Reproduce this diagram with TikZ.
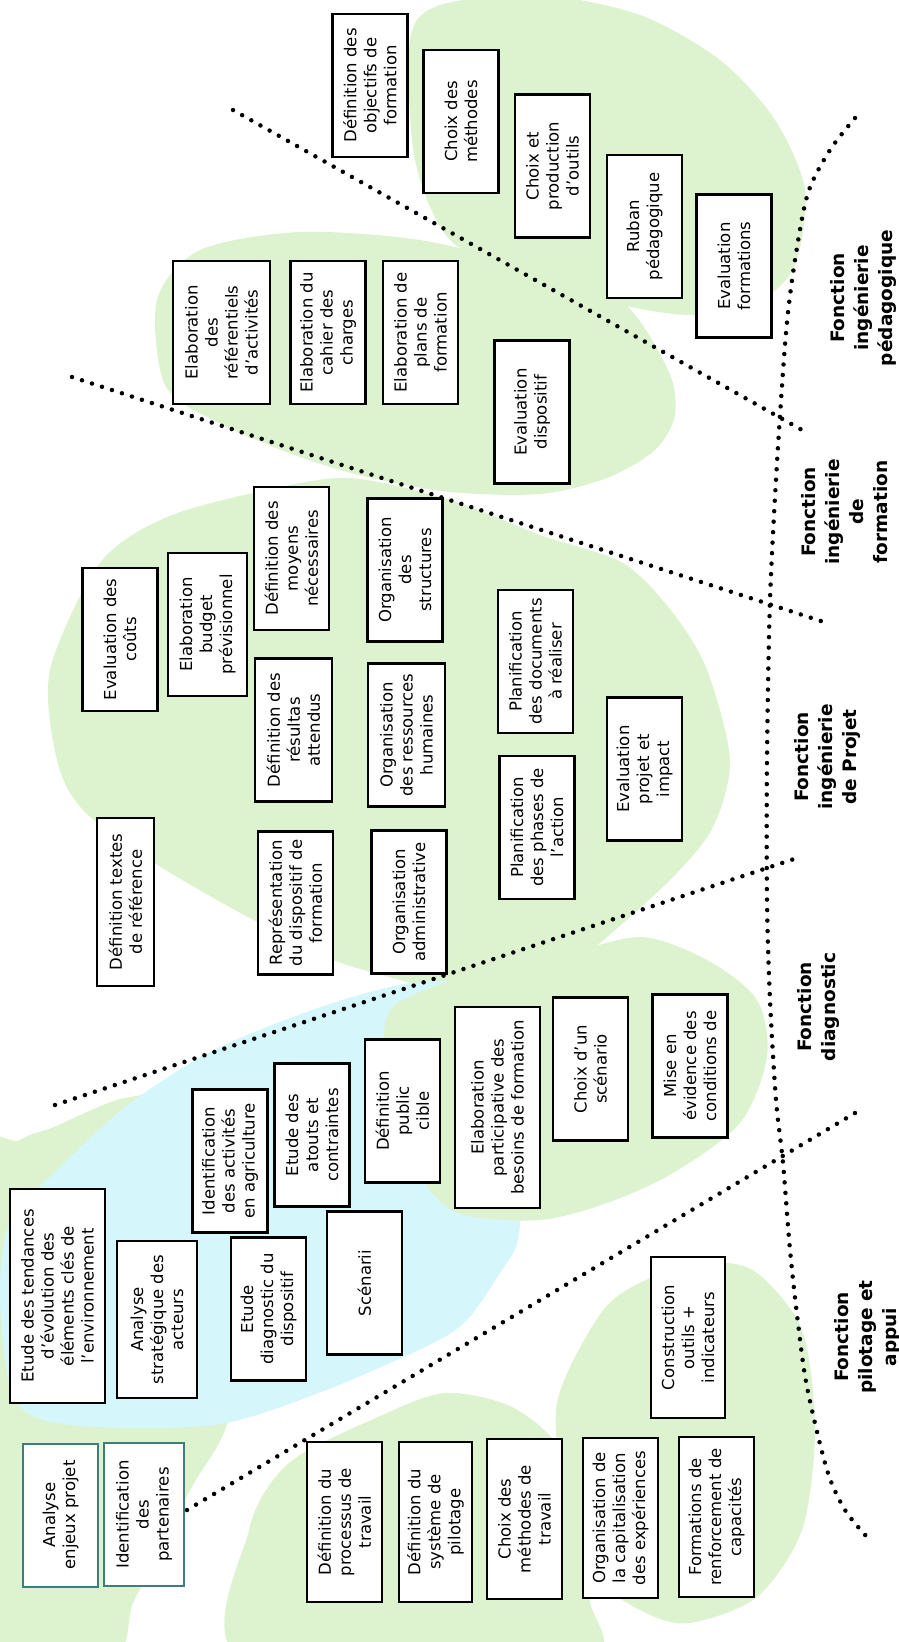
\documentclass[tikz,border=0pt]{standalone}
\usepackage{fontspec}
\setmainfont{DejaVu Sans}
\usepackage{xcolor}
\usepackage{tikz}
\usetikzlibrary{positioning}
\definecolor{blobgreen}{RGB}{221,243,207}
\definecolor{blobblue}{RGB}{213,246,250}
\definecolor{tealedge}{RGB}{60,126,126}

\begin{document}
\begin{tikzpicture}[x=1pt, y=-1pt,
    box/.style={rectangle, draw, line width=2.4pt, fill=white, rotate=90, inner sep=0pt, minimum width=143pt, minimum height=75pt, align=center, font=\fontsize{16.5}{20}\selectfont},
    tealbox/.style={box, draw=tealedge, line width=2pt},
    func/.style={rotate=90, align=center, font=\bfseries\fontsize{18.5}{24}\selectfont},
    divider/.style={line width=4.5pt, line cap=round, dash pattern=on 0pt off 10.5pt}
]
\clip (0,0) rectangle (899,1642);
\fill[white] (0,0) rectangle (899,1642);

% blobs
\fill[blobgreen] plot[smooth cycle] coordinates {(410,40) (440,5) (540,-5) (640,15) (720,60) (775,120) (805,190) (795,265) (760,300) (690,315) (600,300) (520,270) (450,240) (415,160)};
\fill[blobgreen] plot[smooth cycle] coordinates {(157,300) (200,250) (300,232) (420,240) (520,265) (620,300) (668,370) (675,415) (655,450) (607,478) (540,494) (450,492) (367,477) (300,457) (217,422) (165,385)};
\fill[blobgreen] plot[smooth cycle] coordinates {(350,478) (450,500) (540,535) (623,563) (673,613) (707,670) (730,760) (713,827) (673,877) (607,937) (560,972) (500,992) (450,993) (400,980) (333,960) (267,927) (217,900) (150,860) (83,810) (57,760) (50,670) (100,563) (167,517) (267,490)};
\fill[blobgreen] plot[smooth cycle] coordinates {(-30,1180) (20,1140) (54,1127) (125,1098) (200,1100) (240,1200) (240,1350) (225,1430) (190,1490) (160,1553) (133,1603) (110,1660) (-30,1660)};
\fill[blobblue] plot[smooth cycle] coordinates {(54,1173) (125,1107) (214,1050) (321,1007) (411,983) (470,990) (505,1080) (520,1180) (518,1240) (500,1273) (467,1320) (429,1345) (321,1392) (214,1425) (71,1425) (15,1400) (0,1300) (10,1220)};
\fill[blobgreen] plot[smooth cycle] coordinates {(393,1007) (470,975) (557,957) (640,937) (707,960) (757,1000) (767,1057) (740,1123) (673,1173) (607,1203) (540,1220) (464,1215) (430,1190) (400,1130) (385,1060)};
\fill[blobgreen] plot[smooth cycle] coordinates {(245,1660) (249,1530) (289,1463) (378,1417) (445,1393) (512,1407) (561,1450) (585,1530) (590,1600) (580,1660)};
\fill[blobgreen] plot[smooth cycle] coordinates {(557,1403) (601,1313) (646,1280) (713,1263) (757,1273) (802,1330) (815,1430) (802,1530) (757,1597) (690,1623) (646,1613) (600,1580) (567,1500)};

% dividers
\coordinate (d1a) at (233,110);
\coordinate (d1b) at (802,430);
\coordinate (d2a) at (72,377);
\coordinate (d2b) at (827,623);
\coordinate (d3a) at (55,1105);
\coordinate (d3b) at (800,857);
\coordinate (d4a) at (187,1510);
\coordinate (d4b) at (855,1113);
\draw[divider] (d1a) -- (d1b);
\draw[divider] (d2a) -- (d2b);
\draw[divider] (d3a) -- (d3b);
\draw[divider] (d4a) -- (d4b);
\draw[divider] plot[smooth] coordinates {(855,118) (830,150) (808,193) (795,260) (786,333) (777,463) (770,600) (767,760) (767,900) (770,1000) (776,1100) (783,1163) (790,1250) (798,1323) (807,1387) (827,1470) (845,1510) (867,1537)};

% pedagogie
\node[box] (objf) at (370,85.5) {Définition des\\objectifs de\\formation};
\node[box] (meth) at (461,121.5) {Choix des\\méthodes};
\node[box] (outi) at (552.5,166) {Choix et\\production\\d'outils};
\node[box] (ruban) at (644.5,226.5) {Ruban\\pédagogique};
\node[box] (evform) at (734,266) {Evaluation\\formations};

% formation
\node[box, minimum height=97pt] (refer) at (221.5,332.5) {Elaboration\\des\\référentiels\\d'activités};
\node[box] (cahier) at (328,332.5) {Elaboration du\\cahier des\\charges};
\node[box] (plans) at (420.5,332.5) {Elaboration de\\plans de\\formation};
\node[box] (evdisp) at (532,412) {Evaluation\\dispositif};

% projet
\node[box] (couts) at (120,639.5) {Evaluation des\\coûts};
\node[box, minimum height=79pt] (budget) at (207.5,624.5) {Elaboration\\budget\\prévisionnel};
\node[box] (moyens) at (291.5,558.5) {Définition des\\moyens\\nécessaires};
\node[box] (struct) at (405,570) {Organisation\\des\\structures};
\node[box, minimum height=77pt] (result) at (293.5,730) {Définition des\\résultas\\attendus};
\node[box, minimum height=77pt] (rh) at (406.5,735) {Organisation\\des ressources\\humaines};
\node[box, minimum width=168pt, minimum height=57pt] (textes) at (125.5,902) {Définition textes\\de référence};
\node[box] (repres) at (295.5,903) {Représentation\\du dispositif de\\formation};
\node[box] (admin) at (409,902) {Organisation\\administrative};
\node[box] (docs) at (535.5,661.5) {Planification\\des documents\\à réaliser};
\node[box] (phases) at (537,827.5) {Planification\\des phases de\\l'action};
\node[box] (evproj) at (644.5,769) {Evaluation\\projet et\\impact};

% diagnostic
\node[box, minimum width=201pt, minimum height=85pt] (besoins) at (497.5,1107.5) {Elaboration\\participative des\\besoins de formation};
\node[box] (scenario) at (590.5,1069) {Choix d'un\\scénario};
\node[box] (evidence) at (690,1066) {Mise en\\évidence des\\conditions de};
\node[box] (activ) at (230,1161) {Identification\\des activités\\en agriculture};
\node[box] (atouts) at (312,1135) {Etude des\\atouts et\\contraintes};
\node[box] (cible) at (402.5,1111) {Définition\\public\\cible};
\node[box, minimum width=214pt, minimum height=95pt] (tend) at (57.5,1296) {Etude des tendances\\d'évolution des\\éléments clés de\\l'environnement};
\node[box, minimum width=157pt, minimum height=80pt] (acteurs) at (157,1319.5) {Analyse\\stratégique des\\acteurs};
\node[box] (diagdisp) at (268.5,1309) {Etude\\diagnostic du\\dispositif};
\node[box] (scenarii) at (364.5,1283) {Scénarii};

% pilotage
\node[tealbox] (enjeux) at (60.5,1515) {Analyse\\enjeux projet};
\node[tealbox, minimum height=80pt] (partn) at (144,1514.5) {Identification\\des\\partenaires};
\node[box, minimum width=160pt] (process) at (344.5,1522) {Définition du\\processus de\\travail};
\node[box, minimum width=160pt, minimum height=73pt] (systeme) at (435.5,1522) {Définition du\\système de\\pilotage};
\node[box, minimum width=160pt] (methtrav) at (524.5,1519) {Choix des\\méthodes de\\travail};
\node[box, minimum width=160pt] (capit) at (620.5,1518) {Organisation de\\la capitalisation\\des expériences};
\node[box, minimum width=160pt] (renf) at (716.5,1517) {Formations de\\renforcement de\\capacités};
\node[box, minimum width=161pt, minimum height=74pt] (outind) at (688,1337.5) {Construction\\outils +\\indicateurs};

% fonctions
\node[func] (fped) at (863,298) {Fonction\\ingénierie\\pédagogique};
\node[func] (fform) at (845,512) {Fonction\\ingénierie\\de\\formation};
\node[func] (fproj) at (827,757) {Fonction\\ingénierie\\de Projet};
\node[func] (fdiag) at (818,1007) {Fonction\\diagnostic};
\node[func] (fpil) at (867,1337) {Fonction\\pilotage et\\appui};
\end{tikzpicture}
\end{document}
